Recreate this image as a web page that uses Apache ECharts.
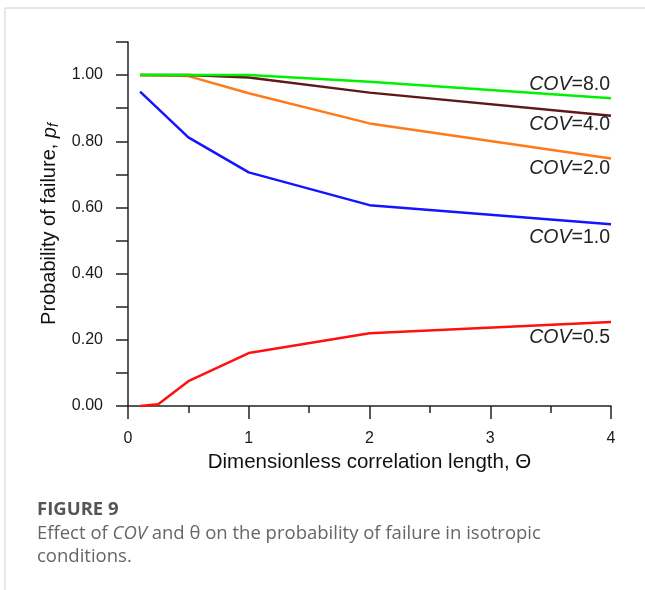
<!DOCTYPE html>
<html>
<head>
<meta charset="utf-8">
<script src="https://cdn.jsdelivr.net/npm/echarts@6/dist/echarts.min.js"></script>
<style>
html, body { margin: 0; padding: 0; background: #fff; }
#chart { width: 645px; height: 590px; }
</style>
</head>
<body>
<div id="chart"></div>
<script>
// dimensionless correlation length
var theta = [0.1, 0.5, 1, 2, 4]
var thetaLow = [0.1, 0.25, 0.5, 1, 2, 4]
// probability of failure for each COV
var cov05 = [0.000, 0.005, 0.075, 0.160, 0.220, 0.254]
var cov1 = [0.950, 0.812, 0.706, 0.607, 0.549]
var cov2 = [1.000, 0.997, 0.945, 0.854, 0.748]
var cov4 = [1.000, 1.000, 0.993, 0.947, 0.877]
var cov8 = [1.000, 1.000, 1.000, 0.980, 0.930]
var covNames = ['0.5', '1.0', '2.0', '4.0', '8.0']

function pairs (xs, ys) {
  return xs.map(function (x, i) { return [x, ys[i]] })
}

function covSeries (name, xs, ys, color, dy) {
  return {
    name: 'COV=' + name,
    type: 'line',
    symbol: 'none',
    data: pairs(xs, ys),
    lineStyle: { color: color, width: 2.5 },
    markPoint: {
      symbol: 'circle',
      symbolSize: 0,
      data: [{ coord: [xs[xs.length - 1], ys[ys.length - 1]] }],
      label: {
        show: true,
        position: 'left',
        distance: 1,
        offset: [0, dy],
        formatter: '{a|COV}{b|=' + name + '}',
        rich: {
          a: { fontFamily: 'Liberation Sans', fontSize: 19.5, fontStyle: 'italic', color: '#222' },
          b: { fontFamily: 'Liberation Sans', fontSize: 19.5, color: '#222' }
        }
      }
    }
  }
}

var chart = echarts.init(document.getElementById('chart'))
chart.setOption({
  backgroundColor: '#fff',
  animation: false,
  grid: { left: 128, right: 34, top: 42, bottom: 184 },
  xAxis: {
    type: 'value',
    min: 0,
    max: 4,
    interval: 1,
    name: 'Dimensionless correlation length, \u0398',
    nameLocation: 'middle',
    nameGap: 42,
    nameTextStyle: { fontFamily: 'Liberation Sans', fontSize: 20.5, color: '#111' },
    axisLine: { lineStyle: { color: '#222', width: 1.5 } },
    axisTick: { show: true, length: 13, lineStyle: { color: '#222', width: 1.5 } },
    minorTick: { show: true, splitNumber: 2, length: 7, lineStyle: { color: '#222', width: 1.5 } },
    axisLabel: { margin: 25, fontFamily: 'Liberation Sans', fontSize: 16, color: '#1a1a1a' },
    splitLine: { show: false }
  },
  yAxis: {
    type: 'value',
    min: 0,
    max: 1.1,
    interval: 0.1,
    name: '{n|Probability of failure, }{i|p}{s|f}',
    nameLocation: 'middle',
    nameGap: 66,
    nameTextStyle: {
      rich: {
        n: { fontFamily: 'Liberation Sans', fontSize: 20, color: '#111' },
        i: { fontFamily: 'Liberation Sans', fontSize: 20, fontStyle: 'italic', color: '#111' },
        s: { fontFamily: 'Liberation Sans', fontSize: 14, fontStyle: 'italic', color: '#111', padding: [8, 0, 0, 0] }
      }
    },
    axisLine: { show: true, lineStyle: { color: '#222', width: 1.5 } },
    axisTick: { show: true, length: 12, lineStyle: { color: '#222', width: 1.5 } },
    axisLabel: {
      margin: 25,
      fontFamily: 'Liberation Sans',
      fontSize: 16,
      color: '#1a1a1a',
      formatter: function (v) {
        return Math.round(v * 10) % 2 === 0 ? v.toFixed(2) : ''
      }
    },
    splitLine: { show: false }
  },
  series: [
    covSeries(covNames[0], thetaLow, cov05, '#ff1010', 16),
    covSeries(covNames[1], theta, cov1, '#1414ff', 13),
    covSeries(covNames[2], theta, cov2, '#ff7a1a', 10),
    covSeries(covNames[3], theta, cov4, '#5e1818', 9),
    covSeries(covNames[4], theta, cov8, '#00f000', -14)
  ],
  graphic: [
    { type: 'line', shape: { x1: 5, y1: 8, x2: 645, y2: 8 }, style: { stroke: '#cfcfcf', lineWidth: 1 } },
    { type: 'line', shape: { x1: 5, y1: 8, x2: 5, y2: 590 }, style: { stroke: '#cfcfcf', lineWidth: 1 } },
    {
      type: 'text',
      left: 37,
      top: 500,
      style: { text: 'FIGURE 9', font: 'bold 18.5px "Open Sans"', fill: '#555' }
    },
    {
      type: 'text',
      left: 37,
      top: 524,
      style: {
        text: '{n|Effect of }{i|COV}{n| and \u03b8 on the probability of failure in isotropic}\n{n|conditions.}',
        rich: {
          n: { font: '18.5px "Open Sans"', fill: '#666', lineHeight: 23 },
          i: { font: 'italic 18.5px "Open Sans"', fill: '#666', lineHeight: 23 }
        }
      }
    }
  ]
})
</script>
</body>
</html>
